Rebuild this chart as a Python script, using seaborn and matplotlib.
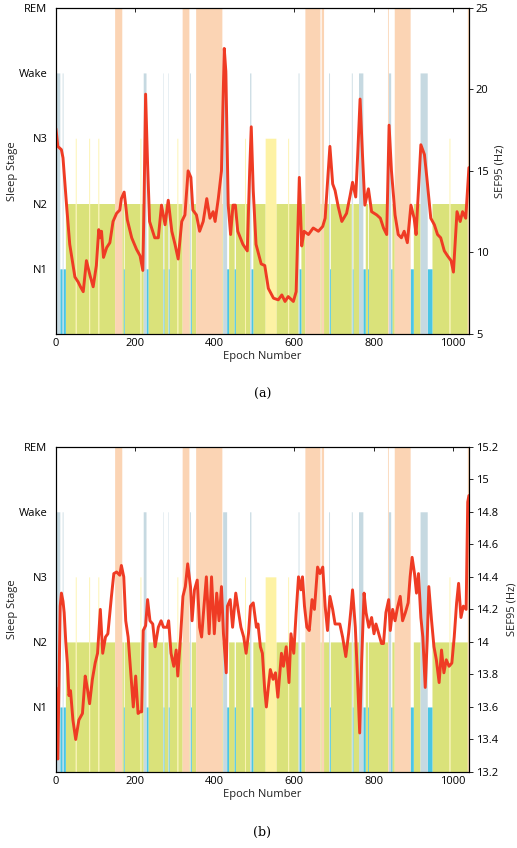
import numpy as np
import pandas as pd
import matplotlib
matplotlib.use("Agg")
import matplotlib.pyplot as plt
import seaborn as sns
from matplotlib.ticker import FormatStrFormatter

# Sleep stages (hypnogram) - everything not listed is N2
stage_names = ['N1', 'N2', 'N3', 'Wake', 'REM']
stage_level = {'N1': 1, 'N2': 2, 'N3': 3, 'Wake': 4, 'REM': 5}
stage_color = {'N2': '#dae27a', 'N1': '#4ac6e4', 'Wake': '#c6d9e1',
               'REM': '#fbd4b4', 'N3': '#fdf2a4'}
n_epochs = 1040

seg_start = [0, 10, 16, 18, 49, 83, 106, 148, 170, 212, 220, 227, 269, 270, 282, 283,
             305, 318, 337, 339, 352, 420, 430, 449, 475, 488, 491, 527, 584, 610, 612,
             627, 668, 687, 689, 744, 746, 762, 773, 785, 835, 837, 843, 852, 892, 917,
             935, 990, 1036]
seg_end = [10, 16, 18, 24, 51, 85, 108, 166, 172, 214, 227, 232, 270, 272, 283, 285,
           307, 335, 339, 341, 418, 430, 435, 452, 477, 491, 496, 554, 586, 612, 617,
           665, 674, 689, 691, 746, 748, 773, 779, 787, 837, 843, 846, 892, 900, 935,
           947, 992, 1040]
seg_stage = ['Wake', 'N1', 'Wake', 'N1', 'N3', 'N3', 'N3', 'REM', 'N1', 'N3', 'Wake', 'N1',
             'Wake', 'N1', 'Wake', 'N1', 'N3', 'REM', 'Wake', 'N1', 'REM', 'Wake', 'N1',
             'N1', 'N3', 'Wake', 'N1', 'N3', 'N3', 'Wake', 'N1', 'REM', 'REM', 'Wake', 'N1',
             'Wake', 'N1', 'Wake', 'N1', 'N1', 'REM', 'Wake', 'N1', 'REM', 'N1', 'Wake',
             'N1', 'N3', 'REM']

# SEF95 panel (a)
a_epochs = [0, 2, 5, 14, 18, 22, 27, 35, 48, 56, 62, 69, 77, 86, 94, 102, 108, 111, 115, 120,
            128, 136, 144, 153, 161, 165, 172, 180, 191, 203, 212, 219, 222, 226, 231, 236,
            249, 258, 266, 275, 283, 292, 300, 308, 317, 325, 333, 340, 345, 354, 362, 371,
            380, 388, 396, 401, 409, 417, 424, 428, 434, 440, 446, 452, 458, 471, 482, 488,
            492, 497, 504, 517, 526, 535, 548, 560, 569, 577, 585, 598, 605, 613, 619, 625,
            636, 648, 661, 672, 678, 686, 690, 697, 703, 711, 720, 732, 741, 747, 755, 760,
            766, 772, 778, 787, 795, 808, 817, 825, 833, 839, 845, 854, 862, 870, 877, 885,
            894, 902, 907, 913, 919, 928, 934, 944, 953, 961, 969, 978, 986, 995, 1001, 1010,
            1018, 1024, 1032, 1040]
a_sef = [17.6, 17.2, 16.5, 16.3, 15.8, 14.5, 12.9, 10.5, 8.5, 8.2, 7.9, 7.6, 9.5, 8.6, 7.9,
         9.2, 11.4, 10.9, 11.3, 9.7, 10.3, 10.6, 11.9, 12.4, 12.6, 13.3, 13.7, 12.0, 10.9,
         10.2, 9.8, 8.9, 12.9, 19.7, 15.4, 11.9, 10.9, 10.9, 12.9, 11.7, 13.2, 11.3, 10.5,
         9.6, 11.9, 12.3, 15.0, 14.6, 12.6, 12.3, 11.3, 11.9, 13.3, 12.1, 12.5, 11.9, 13.3,
         15.0, 22.5, 21.1, 12.9, 11.1, 12.9, 12.9, 11.3, 10.5, 10.1, 15.0, 17.7, 13.8, 10.5,
         9.3, 9.2, 7.8, 7.2, 7.1, 7.4, 7.0, 7.3, 7.0, 7.6, 14.6, 10.4, 11.3, 11.1, 11.5,
         11.3, 11.6, 12.1, 15.0, 16.5, 14.2, 13.8, 12.8, 11.9, 12.4, 13.5, 14.3, 13.4, 16.0,
         19.4, 16.0, 12.9, 13.9, 12.5, 12.3, 12.1, 11.5, 11.1, 17.8, 15.0, 12.3, 11.1, 10.9,
         11.3, 10.6, 12.9, 12.1, 11.1, 13.8, 16.6, 16.0, 14.6, 12.1, 11.7, 11.1, 10.9, 10.1,
         9.8, 9.5, 8.8, 12.5, 11.9, 12.5, 12.1, 15.2]

# SEF95 panel (b)
b_epochs = [0, 2, 5, 8, 11, 14, 18, 21, 25, 29, 33, 37, 43, 50, 58, 67, 74, 79, 85, 92, 99,
            105, 112, 118, 125, 131, 140, 146, 153, 161, 165, 171, 176, 182, 188, 195, 201,
            207, 212, 216, 220, 226, 231, 237, 244, 250, 258, 265, 271, 280, 284, 290, 297,
            303, 307, 314, 320, 326, 332, 339, 343, 349, 356, 362, 367, 373, 379, 386, 392,
            399, 405, 411, 417, 422, 429, 432, 439, 445, 453, 459, 466, 473, 479, 485, 490,
            497, 505, 509, 515, 520, 526, 530, 535, 540, 547, 553, 559, 568, 573, 580, 587,
            592, 599, 605, 611, 617, 621, 626, 632, 638, 645, 651, 659, 665, 672, 678, 684,
            690, 697, 703, 709, 715, 722, 730, 737, 743, 747, 754, 759, 765, 770, 776, 781,
            788, 795, 801, 806, 813, 820, 825, 831, 838, 842, 848, 854, 861, 867, 873, 880,
            887, 892, 897, 903, 908, 913, 919, 924, 930, 935, 939, 946, 952, 958, 965, 971,
            977, 983, 990, 997, 1003, 1009, 1014, 1020, 1026, 1033, 1037, 1040]
b_sef = [13.72, 13.3, 13.28, 13.75, 14.22, 14.30, 14.25, 14.18, 14.0, 13.87, 13.67, 13.70,
         13.52, 13.40, 13.52, 13.56, 13.79, 13.72, 13.62, 13.77, 13.87, 13.93, 14.2, 13.93,
         14.03, 14.05, 14.28, 14.42, 14.43, 14.41, 14.47, 14.40, 14.13, 14.03, 13.83, 13.60,
         13.79, 13.56, 13.57, 13.57, 14.07, 14.1, 14.26, 14.13, 14.11, 13.97, 14.09, 14.13,
         14.09, 14.09, 14.13, 13.93, 13.85, 13.95, 13.79, 14.03, 14.28, 14.34, 14.48, 14.34,
         14.13, 14.32, 14.38, 14.09, 14.03, 14.22, 14.40, 14.05, 14.40, 14.05, 14.30, 14.13,
         14.34, 14.05, 13.81, 14.22, 14.26, 14.09, 14.30, 14.2, 14.09, 14.03, 13.93, 14.05,
         14.22, 14.24, 14.09, 14.11, 13.97, 13.93, 13.70, 13.60, 13.72, 13.83, 13.77, 13.81,
         13.66, 13.93, 13.85, 13.97, 13.75, 14.05, 13.93, 14.18, 14.40, 14.32, 14.40, 14.22,
         14.09, 14.07, 14.26, 14.2, 14.46, 14.42, 14.46, 14.22, 14.07, 14.28, 14.2, 14.11,
         14.11, 14.11, 14.03, 13.91, 14.05, 14.2, 14.32, 14.09, 13.81, 13.44, 13.89, 14.30,
         14.18, 14.09, 14.15, 14.05, 14.11, 14.05, 13.99, 13.99, 14.18, 14.26, 14.07, 14.2,
         14.13, 14.22, 14.28, 14.13, 14.18, 14.24, 14.40, 14.52, 14.42, 14.30, 14.42, 14.15,
         14.03, 13.72, 14.01, 14.34, 14.13, 13.97, 13.89, 13.75, 13.95, 13.81, 13.89, 13.85,
         13.87, 14.03, 14.24, 14.36, 14.15, 14.22, 14.2, 14.86, 14.9]

x_ticks = [0, 200, 400, 600, 800, 1000]
a_right_ticks = [5, 10, 15, 20, 25]
b_right_ticks = [13.2, 13.4, 13.6, 13.8, 14.0, 14.2, 14.4, 14.6, 14.8, 15.0, 15.2]

sns.set_theme(style="white")
plt.rcParams['font.family'] = ['Open Sans', 'DejaVu Sans']
plt.rcParams['text.color'] = 'black'
plt.rcParams['axes.labelcolor'] = '#222222'
plt.rcParams['xtick.color'] = 'black'
plt.rcParams['ytick.color'] = 'black'

# epoch-level stage array
stages = np.array(['N2'] * n_epochs, dtype=object)
for s, e, st in zip(seg_start, seg_end, seg_stage):
    stages[s:e] = st
edges = np.arange(n_epochs + 1)

fig = plt.figure(figsize=(5.17, 8.48), dpi=100)
ax_a = fig.add_axes([0.108, 0.606, 0.799, 0.385])
ax_b = fig.add_axes([0.108, 0.0896, 0.799, 0.3836])

red = '#ef3b24'


def draw_panel(ax, ep, sef, rticks, rlim, caption, rlabel_x):
    # hypnogram as filled stage bands
    for st in ['N2', 'N1', 'Wake', 'N3', 'REM']:
        h = np.where(stages == st, stage_level[st], 0)
        h = np.append(h, h[-1])
        ax.fill_between(edges, 0, h, step='post', color=stage_color[st], lw=0)
    ax.set_xlim(0, n_epochs)
    ax.set_ylim(0, 5)
    ax.set_yticks([1, 2, 3, 4, 5])
    ax.set_yticklabels(stage_names)
    ax.set_xticks(x_ticks)
    ax.set_ylabel('Sleep Stage', fontsize=8)
    ax.yaxis.set_label_coords(-0.092, 0.5)
    ax.set_xlabel('Epoch Number', fontsize=8, labelpad=1)
    ax.tick_params(axis='x', direction='in', top=True, length=3, width=0.6,
                   labelsize=8, pad=3, colors='black')
    ax.tick_params(axis='y', left=False, length=0, labelsize=8, pad=6, colors='black')
    for sp in ax.spines.values():
        sp.set_color('black')
        sp.set_linewidth(0.8)

    ax2 = ax.twinx()
    df = pd.DataFrame({'epoch': ep, 'sef': sef})
    sns.lineplot(data=df, x='epoch', y='sef', ax=ax2, color=red, lw=2.1)
    ax2.set_xlim(0, n_epochs)
    ax2.set_ylim(*rlim)
    ax2.set_yticks(rticks)
    ax2.yaxis.set_major_formatter(FormatStrFormatter('%g'))
    ax2.set_ylabel('SEF95 (Hz)', fontsize=8)
    ax2.yaxis.set_label_coords(rlabel_x, 0.5)
    ax2.set_xlabel('')
    ax2.tick_params(axis='y', right=True, direction='out', length=3, width=0.6,
                    labelsize=8, pad=2, colors='black')
    for sp in ax2.spines.values():
        sp.set_color('black')
        sp.set_linewidth(0.8)
    ax.text(0.5, -0.165, caption, transform=ax.transAxes, ha='center', va='top',
            fontsize=9, family=['DejaVu Serif'])


draw_panel(ax_a, a_epochs, a_sef, a_right_ticks, (5, 25), '(a)', 1.062)
draw_panel(ax_b, b_epochs, b_sef, b_right_ticks, (13.2, 15.2), '(b)', 1.09)

fig.savefig('out.png', dpi=100)
